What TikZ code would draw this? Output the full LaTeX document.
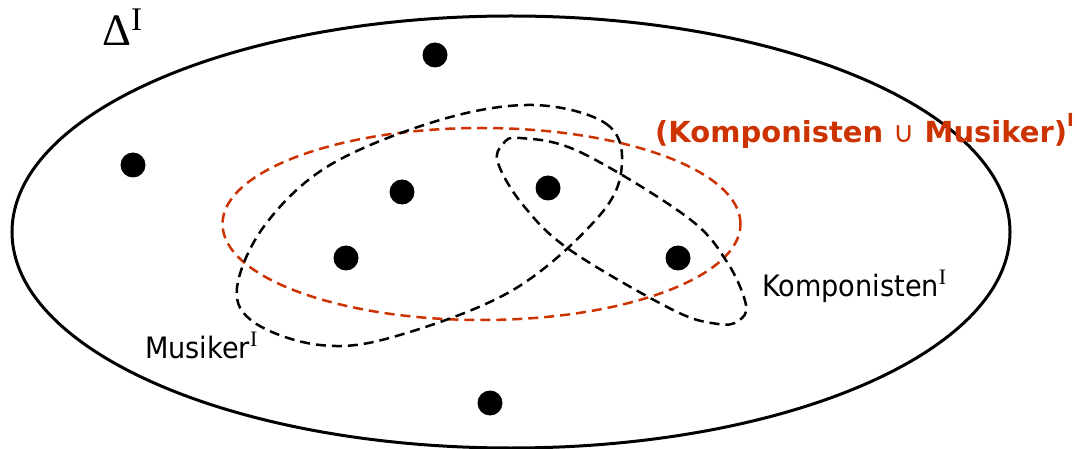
\documentclass[tikz,border=0pt]{standalone}
\usepackage{fontspec}
\setmainfont{DejaVu Sans}
\newfontfamily\labfont{DejaVu Sans}[FakeStretch=0.92]
\newfontfamily\serifI{Liberation Serif}
\definecolor{rust}{RGB}{204,51,0}
\newcommand{\supI}{\raisebox{12pt}{\serifI\fontsize{22}{22}\selectfont I}}
\begin{document}
\begin{tikzpicture}[x=1pt,y=1pt,
  dot/.style={circle,fill=black,inner sep=0pt,minimum size=25pt},
  setline/.style={line width=2.5pt,dash pattern=on 10pt off 6pt},
  lbl/.style={inner sep=0pt,anchor=base west,font=\labfont\fontsize{29.5}{32}\selectfont}]
\useasboundingbox (0,0) rectangle (1077,-449);
\clip (0,0) rectangle (1077,-449);
% domain
\draw[line width=3pt] (511,-232) ellipse [x radius=499, y radius=216];
% union (red)
\draw[setline,rust] (481.5,-224) ellipse [x radius=259, y radius=96];
% Musiker
\draw[setline] plot[smooth cycle,tension=0.6] coordinates {
  (533,-105) (605,-123) (622,-163) (600,-215) (513,-290) (393,-337)
  (320,-345) (255,-323) (237,-288) (265,-225) (330,-165) (440,-120)};
% Komponisten
\draw[setline] plot[smooth cycle,tension=0.6] coordinates {
  (520,-138) (580,-152) (687,-217) (727,-262) (746,-305) (738,-321)
  (718,-324) (673,-310) (570,-250) (523,-205) (498,-163) (503,-144)};
% elements
\node[dot] (d1) at (435,-55) {};
\node[dot] (d2) at (133,-165) {};
\node[dot] (d3) at (402,-192) {};
\node[dot] (d4) at (548,-188) {};
\node[dot] (d5) at (346,-258) {};
\node[dot] (d6) at (678,-258) {};
\node[dot] (d7) at (490,-403) {};
% labels
\node[lbl,font=\serifI\fontsize{45}{45}\selectfont] (delta) at (102,-46) {Δ\raisebox{15pt}{\fontsize{33}{33}\selectfont I}};
\node[lbl] (komp) at (762,-297) {Komponisten\supI};
\node[lbl] (mus) at (145,-358) {Musiker\supI};
\node[lbl,text=rust,font=\bfseries\fontsize{29}{32}\selectfont] (union) at (655,-143) {(Komponisten {\mdseries\char"222A} Musiker)\raisebox{16pt}{\fontsize{18}{18}\selectfont I}};
\end{tikzpicture}
\end{document}
